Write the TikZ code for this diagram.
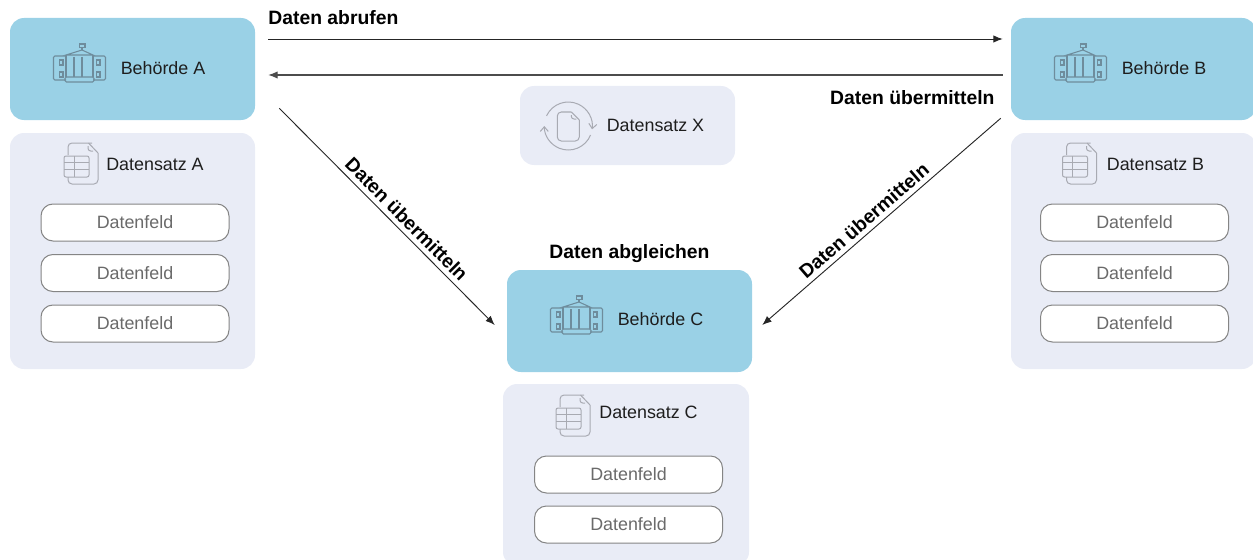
\documentclass[tikz,border=0pt]{standalone}
\usepackage{fontspec}
\setmainfont{Liberation Sans}
\usetikzlibrary{arrows.meta}

\newdimen\px
\px=.75pt

\definecolor{agencyblue}{HTML}{9AD1E6}
\definecolor{panelgray}{HTML}{E9ECF6}
\definecolor{fieldline}{HTML}{858585}
\definecolor{fieldtext}{HTML}{6A6A6A}
\definecolor{captiontext}{HTML}{1E1E1E}
\definecolor{iconblue}{HTML}{6E8C9C}
\definecolor{icongray}{HTML}{A8AAB2}

\tikzstyle{agency} = [rectangle, fill=agencyblue, rounded corners=14\px,
    minimum width=245\px, minimum height=102\px, inner sep=0pt]
\tikzstyle{panel} = [rectangle, fill=panelgray, rounded corners=14\px,
    minimum width=245\px, inner sep=0pt]
\tikzstyle{datafield} = [rectangle, draw=fieldline, line width=.75pt, fill=white, text=fieldtext,
    rounded corners=12\px, minimum width=188\px, minimum height=37\px,
    inner sep=0pt, font=\fontsize{13.4}{15}\selectfont]
\tikzstyle{caption} = [text=captiontext, inner sep=0pt, font=\fontsize{13.4}{15}\selectfont]
\tikzstyle{description} = [color=black, inner sep=2pt, font=\fontsize{14.5}{16}\selectfont\bfseries]
\tikzstyle{line} = [draw, -{Latex[length=7pt,width=5.5pt]}, line width=.7pt, black!85]

\tikzset{
  pics/building/.style={code={
    \begin{scope}[iconblue, line width=.8pt]
    \draw[rounded corners=1pt] (-13,-7) -- (-25.5,-7) -- (-25.5,17) -- (-13,17);
    \draw[rounded corners=1pt] (14,-7) -- (26.5,-7) -- (26.5,17) -- (14,17);
    \draw (-13,-8) -- (3,-13) -- (14,-8) -- cycle;
    \draw (3,-13) -- (3,-15.5);
    \draw (0.5,-19) rectangle (6,-15.5);
    \draw (-13,-8) -- (-13,14) (14,-8) -- (14,14);
    \draw (-5,-6) -- (-5,14) (3,-6) -- (3,14);
    \draw[rounded corners=1pt] (-14,14) rectangle (15,19);
    \foreach \wx in {-19.5,17.5}{
      \draw (\wx,-3) rectangle ++(3.5,5);
      \draw (\wx,9) rectangle ++(3.5,5);
    }
    \end{scope}
  }},
  pics/sheet/.style={code={
    \begin{scope}[icongray, line width=.75pt]
    \draw[rounded corners=3pt] (-13,-8) -- (-13,-20) -- (7,-20) -- (7.5,-20);
    \draw (7.5,-20) -- (17,-10);
    \draw[rounded corners=3pt] (17,-10) -- (17,21) -- (-13,21) -- (-13,14);
    \draw[rounded corners=2pt] (7,-17) -- (7,-12) -- (12,-12);
    \draw[rounded corners=1.5pt] (-17,-7) rectangle (8,14);
    \draw (-17,-1) -- (8,-1) (-17,6) -- (8,6) (-7,-7) -- (-7,14);
    \end{scope}
  }},
  pics/cycledoc/.style={code={
    \begin{scope}[icongray, line width=.75pt]
    \draw[-{Straight Barb[length=3.5pt,width=6pt]}] (-155:24) arc (-155:8:24);
    \draw[-{Straight Barb[length=3.5pt,width=6pt]}] (22:24) arc (22:180:24);
    \draw[rounded corners=3pt] (3,-14) -- (-11,-14) -- (-11,15) -- (11,15) -- (11,-6);
    \draw (3,-14) -- (11,-6);
    \draw[rounded corners=2pt] (3,-11) -- (3,-7) -- (8,-7);
    \end{scope}
  }}
}

\begin{document}
\begin{tikzpicture}[x=.75pt, y=-.75pt, node distance=1cm]
\useasboundingbox (0,0) rectangle (1253,560);

\node (BehoerdeA) [agency] at (132.5,69) {};
\node (BehoerdeB) [agency, right of=BehoerdeA, node distance=1001\px] {};
\node (BehoerdeC) [agency] at (629.5,321) {};

%Agency captions
\node (CaptionA) [caption, right of=BehoerdeA, node distance=30.5\px, yshift=1\px] {Behörde A};
\node (CaptionB) [caption, right of=BehoerdeB, node distance=30.5\px, yshift=1\px] {Behörde B};
\node (CaptionC) [caption, right of=BehoerdeC, node distance=31\px, yshift=2\px] {Behörde C};
\node (AbgleichC) [description, above of=BehoerdeC, node distance=67\px] {Daten abgleichen};

\pic at ([shift={(-53.5,-6)}]BehoerdeA.center) {building};
\pic at ([shift={(-53.5,-6)}]BehoerdeB.center) {building};
\pic at ([shift={(-53.5,-6)}]BehoerdeC.center) {building};

%Panel A
\node (DatensatzA) [panel, minimum height=236\px, below of=BehoerdeA, node distance=182\px] {};
\node (TitleA) [caption, above of=DatensatzA, node distance=87\px, xshift=22.5\px] {Datensatz A};
\node (FeldAa) [datafield, above of=DatensatzA, node distance=28.5\px, xshift=2.5\px] {Datenfeld};
\node (FeldAb) [datafield, below of=FeldAa, node distance=50.5\px] {Datenfeld};
\node (FeldAc) [datafield, below of=FeldAb, node distance=50.5\px] {Datenfeld};
\pic at ([shift={(-51.5,-88)}]DatensatzA.center) {sheet};

%Panel B
\node (DatensatzB) [panel, minimum height=236\px, below of=BehoerdeB, node distance=182\px] {};
\node (TitleB) [caption, above of=DatensatzB, node distance=87\px, xshift=22\px] {Datensatz B};
\node (FeldBa) [datafield, above of=DatensatzB, node distance=28.5\px, xshift=1\px] {Datenfeld};
\node (FeldBb) [datafield, below of=FeldBa, node distance=50.5\px] {Datenfeld};
\node (FeldBc) [datafield, below of=FeldBb, node distance=50.5\px] {Datenfeld};
\pic at ([shift={(-54,-88)}]DatensatzB.center) {sheet};

%Panel C
\node (DatensatzC) [panel, minimum width=246\px, minimum height=182\px] at (626,475) {};
\node (TitleC) [caption, above of=DatensatzC, node distance=63\px, xshift=22.5\px] {Datensatz C};
\node (FeldCa) [datafield, above of=DatensatzC, node distance=0.5\px, xshift=2.5\px] {Datenfeld};
\node (FeldCb) [datafield, below of=FeldCa, node distance=50\px] {Datenfeld};
\pic at ([shift={(-53,-60)}]DatensatzC.center) {sheet};

%Dataset X
\node (DatensatzX) [panel, minimum width=215\px, minimum height=79\px] at (627.5,125.5) {};
\node (TitleX) [caption, right of=DatensatzX, node distance=28\px] {Datensatz X};
\pic at ([shift={(-59.2,0.5)}]DatensatzX.center) {cycledoc};

\path [line]([shift={(13,-30)}]BehoerdeA.east)--node[description, pos=0, anchor=south west, xshift=-3\px, yshift=11\px]{Daten abrufen}([shift={(-8,-30)}]BehoerdeB.west);
\path [line, black!70, line width=.8pt]([shift={(-8,6)}]BehoerdeB.west)--node[description, pos=0, anchor=north east, xshift=-5\px, yshift=-12\px]{Daten übermitteln}([shift={(13,6)}]BehoerdeA.east);
\path [line]([shift={(24,-12)}]BehoerdeA.south east)--node[description, sloped, above, pos=.545, xshift=2\px, yshift=2\px]{Daten übermitteln}([shift={(-12,4)}]BehoerdeC.west);
\path [line]([shift={(-10,-2)}]BehoerdeB.south west)--node[description, sloped, above, pos=.54, yshift=2\px]{Daten übermitteln}([shift={(10,4)}]BehoerdeC.east);

\end{tikzpicture}
\end{document}
